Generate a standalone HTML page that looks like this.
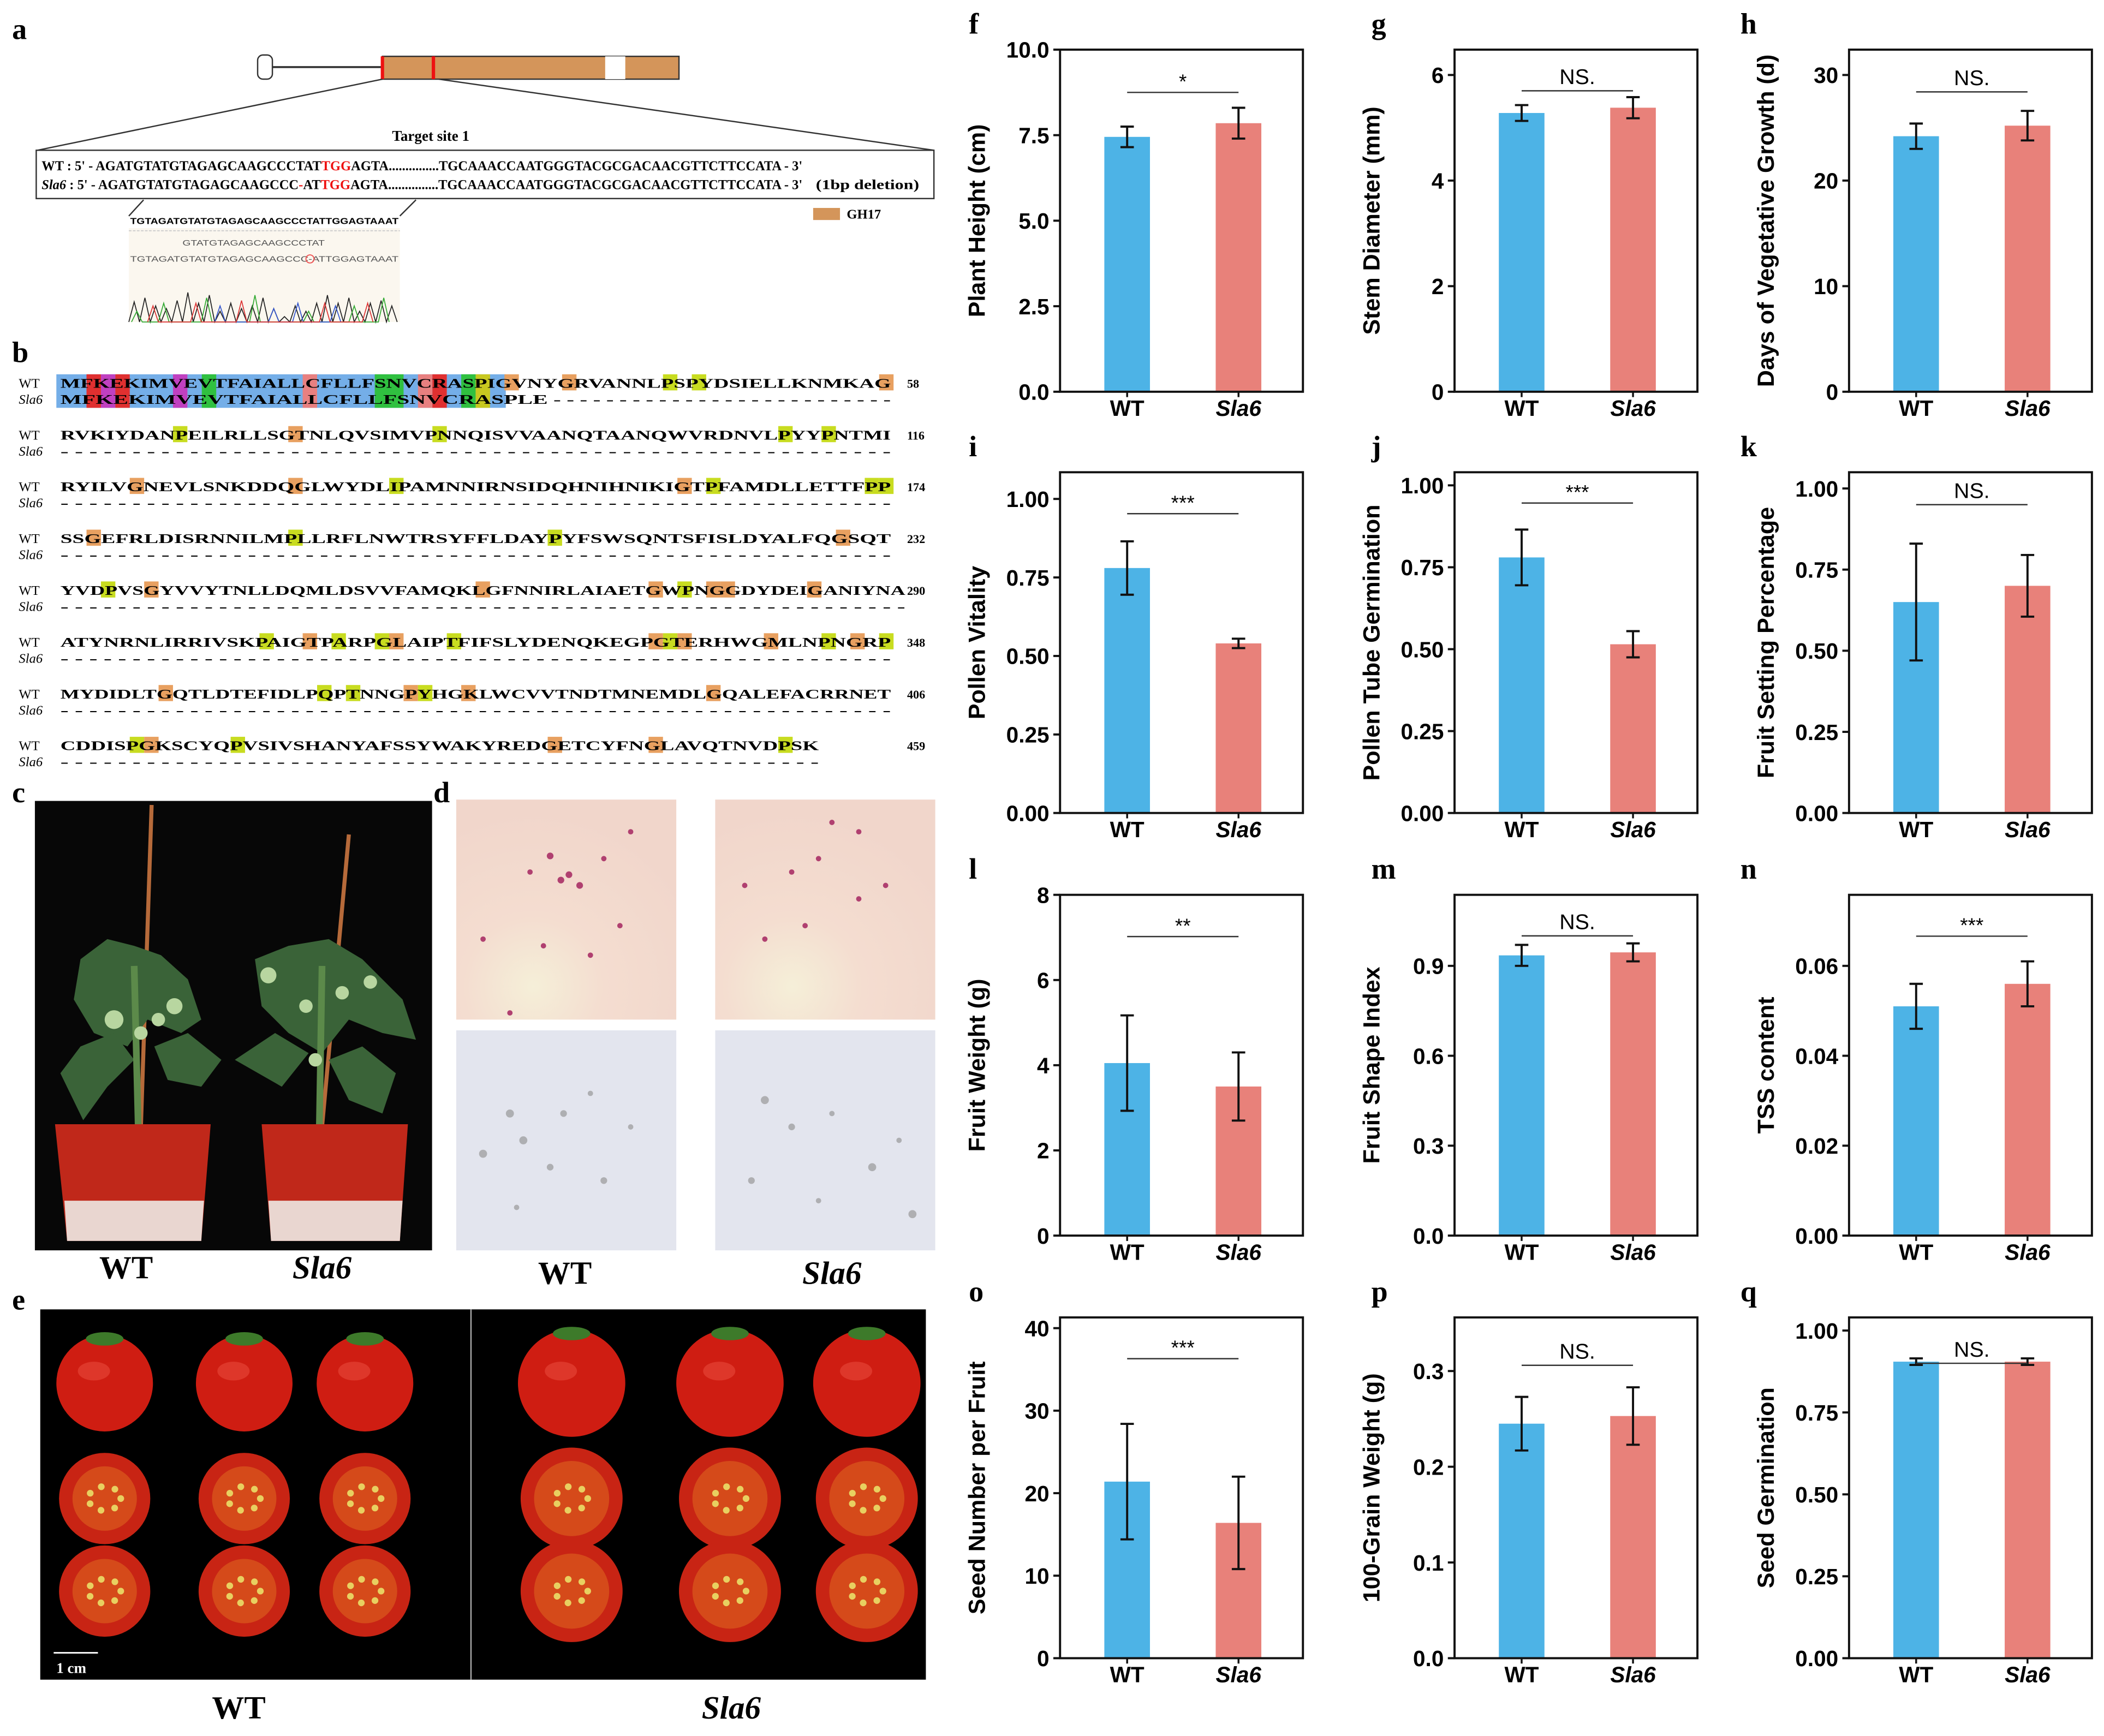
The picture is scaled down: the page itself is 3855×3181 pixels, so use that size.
<!DOCTYPE html>
<html><head><meta charset="utf-8">
<style>
html,body{margin:0;padding:0;background:#fff;}
svg{display:block;}
.ser{font-family:"Liberation Serif",serif;}
.san{font-family:"Liberation Sans",sans-serif;}
</style></head>
<body>
<svg id="fig" xmlns="http://www.w3.org/2000/svg" width="3855" height="3181" viewBox="0 0 1568 1294" preserveAspectRatio="none">
<rect x="0" y="0" width="1568" height="1294" fill="#fff"/>

<!-- Panel a -->
<g>
<text x="9" y="29" class="ser" font-size="22" font-weight="bold">a</text>
<g>
<rect x="192" y="41" width="11" height="18" rx="4" fill="#fff" stroke="#333" stroke-width="1"/>
<line x1="203" y1="50" x2="285" y2="50" stroke="#333" stroke-width="1.5"/>
<rect x="285" y="42" width="221" height="17" fill="#d4955a" stroke="#333" stroke-width="1"/>
<rect x="451" y="42" width="15" height="17" fill="#fff"/>
<line x1="285" y1="42" x2="285" y2="59" stroke="#e11" stroke-width="2.5"/>
<line x1="323" y1="42" x2="323" y2="59" stroke="#e11" stroke-width="2.5"/>
<line x1="285" y1="59" x2="28" y2="112" stroke="#333" stroke-width="1"/>
<line x1="327" y1="59" x2="696" y2="112" stroke="#333" stroke-width="1"/>
</g>
<text x="321" y="105" class="ser" font-size="11" font-weight="bold" text-anchor="middle">Target site 1</text>
<rect x="27" y="112" width="669" height="36" fill="#fff" stroke="#333" stroke-width="1"/>
<text x="31" y="127" class="ser" font-size="10.5" font-weight="bold" textLength="567" lengthAdjust="spacingAndGlyphs">WT : 5' - AGATGTATGTAGAGCAAGCCCTAT<tspan fill="#e11">TGG</tspan>AGTA...............TGCAAACCAATGGGTACGCGACAACGTTCTTCCATA - 3'</text>
<text x="31" y="141" class="ser" font-size="10.5" font-weight="bold" textLength="567" lengthAdjust="spacingAndGlyphs"><tspan font-style="italic">Sla6</tspan> : 5' - AGATGTATGTAGAGCAAGCCC<tspan fill="#e11">-</tspan>AT<tspan fill="#e11">TGG</tspan>AGTA...............TGCAAACCAATGGGTACGCGACAACGTTCTTCCATA - 3'</text>
<text x="608" y="141" class="ser" font-size="10.5" font-weight="bold" textLength="77" lengthAdjust="spacingAndGlyphs">(1bp deletion)</text>
<line x1="107" y1="149" x2="96" y2="161" stroke="#333" stroke-width="1"/>
<line x1="310" y1="149" x2="298" y2="161" stroke="#333" stroke-width="1"/>
<g>
<rect x="96" y="170" width="202" height="70" fill="#fbf7ef"/>
<text x="97" y="167" class="san" font-size="6.2" font-weight="bold" textLength="200" lengthAdjust="spacingAndGlyphs">TGTAGATGTATGTAGAGCAAGCCCTATTGGAGTAAAT</text>
<line x1="96" y1="172" x2="298" y2="172" stroke="#ccc" stroke-width="0.8" stroke-dasharray="2,1"/>
<text x="136" y="183" class="san" font-size="6" fill="#555" textLength="106" lengthAdjust="spacingAndGlyphs">GTATGTAGAGCAAGCCCTAT</text>
<text x="97" y="195" class="san" font-size="6" fill="#555" textLength="200" lengthAdjust="spacingAndGlyphs">TGTAGATGTATGTAGAGCAAGCCC-ATTGGAGTAAAT</text>
<circle cx="231" cy="193" r="3" fill="none" stroke="#e55" stroke-width="0.8"/>
<polyline fill="none" stroke="#222" stroke-width="0.7" points="96,240 100,225 104,240 108,222 112,240 116,228 120,240 124,230 128,240 132,224 136,240 140,218 144,240 148,226 152,240 156,220 160,240 164,232 168,240 172,226 176,240 180,230 184,240 188,228 192,240 196,222 200,240 204,230 208,240 212,236 216,240 220,228 224,240 228,232 232,240 236,226 240,240 244,220 248,240 252,226 256,240 260,222 264,240 268,232 272,240 276,226 280,240 284,224 288,240 292,228 296,240"/>
<polyline fill="none" stroke="#3a3" stroke-width="0.7" points="98,240 102,232 106,240 118,240 122,226 126,240 150,240 154,222 158,240 186,240 190,220 194,240 226,240 230,232 234,240 260,240 264,228 268,240 282,240 286,222 290,240"/>
<polyline fill="none" stroke="#35c" stroke-width="0.7" points="160,240 164,228 168,240 200,240 204,230 208,240 218,240 222,226 226,240 246,240 250,228 254,240"/>
<polyline fill="none" stroke="#d33" stroke-width="0.7" points="110,240 114,228 118,240 142,240 146,226 150,240 176,240 180,224 184,240 238,240 242,226 246,240 270,240 274,226 278,240"/>
</g>
<rect x="606" y="155" width="20" height="9" fill="#d4955a"/>
<text x="631" y="163" class="ser" font-size="10" font-weight="bold">GH17</text>
</g>

<!-- Panel b -->
<g id="panelB">
<text x="9" y="270" class="ser" font-size="22" font-weight="bold">b</text>
</g>

<!-- Panel c -->
<g>
<text x="9" y="598" class="ser" font-size="22" font-weight="bold">c</text>
<rect x="26" y="597" width="296" height="335" fill="#070707"/>
<line x1="113" y1="600" x2="105" y2="840" stroke="#b66a3a" stroke-width="3"/>
<line x1="260" y1="622" x2="240" y2="840" stroke="#b66a3a" stroke-width="3"/>
<g fill="#3a6338">
<polygon points="60,715 80,700 100,705 120,712 140,730 150,760 135,770 110,760 95,780 70,770 55,745"/>
<polygon points="45,800 60,780 85,770 100,790 80,810 62,835"/>
<polygon points="115,780 140,770 165,790 150,810 125,805"/>
<polygon points="190,715 215,705 245,700 270,715 300,745 310,775 285,770 260,760 240,785 215,770 195,750"/>
<polygon points="175,790 205,770 230,785 210,810"/>
<polygon points="245,790 270,780 295,800 285,830 260,820"/>
</g>
<line x1="100" y1="720" x2="103" y2="840" stroke="#5c8a4a" stroke-width="5"/>
<line x1="240" y1="720" x2="238" y2="840" stroke="#5c8a4a" stroke-width="5"/>
<g fill="#b8d6a0">
<circle cx="85" cy="760" r="7"/><circle cx="130" cy="750" r="6"/><circle cx="105" cy="770" r="5"/><circle cx="118" cy="760" r="5"/>
<circle cx="200" cy="727" r="6"/><circle cx="228" cy="750" r="5"/><circle cx="276" cy="732" r="5"/><circle cx="235" cy="790" r="5"/><circle cx="255" cy="740" r="5"/>
</g>
<polygon points="41,838 157,838 150,925 50,925" fill="#c0281a"/>
<polygon points="48,895 152,895 150,925 50,925" fill="#e9d6d0"/>
<polygon points="195,838 304,838 298,925 202,925" fill="#c0281a"/>
<polygon points="200,895 300,895 298,925 202,925" fill="#e9d6d0"/>
<text x="94" y="953" class="ser" font-size="24" font-weight="bold" text-anchor="middle">WT</text>
<text x="240" y="953" class="ser" font-size="24" font-weight="bold" font-style="italic" text-anchor="middle">Sla6</text>
</g>

<!-- Panel d -->
<g>
<defs>
<radialGradient id="pinkg" cx="0.35" cy="0.85" r="0.8"><stop offset="0" stop-color="#f5efd8"/><stop offset="0.4" stop-color="#f4ddd0"/><stop offset="1" stop-color="#f1d6cb"/></radialGradient>
</defs>
<text x="323" y="598" class="ser" font-size="22" font-weight="bold">d</text>
<rect x="340" y="596" width="164" height="164" fill="url(#pinkg)"/>
<rect x="533" y="596" width="164" height="164" fill="url(#pinkg)"/>
<rect x="340" y="768" width="164" height="164" fill="#e3e5ee"/>
<rect x="533" y="768" width="164" height="164" fill="#e3e5ee"/>
<g fill="#b04070">
<circle cx="410" cy="638" r="2.5"/><circle cx="418" cy="656" r="2.5"/><circle cx="424" cy="652" r="2.5"/><circle cx="432" cy="660" r="2.5"/><circle cx="450" cy="640" r="2"/><circle cx="470" cy="620" r="2"/><circle cx="360" cy="700" r="2"/><circle cx="405" cy="705" r="2"/><circle cx="440" cy="712" r="2"/><circle cx="395" cy="650" r="2"/><circle cx="462" cy="690" r="2"/><circle cx="380" cy="755" r="2"/>
<circle cx="620" cy="613" r="2"/><circle cx="590" cy="650" r="2"/><circle cx="610" cy="640" r="2"/><circle cx="640" cy="670" r="2"/><circle cx="570" cy="700" r="2"/><circle cx="600" cy="690" r="2"/><circle cx="660" cy="660" r="2"/><circle cx="555" cy="660" r="2"/><circle cx="640" cy="620" r="2"/>
</g>
<g fill="#999" opacity="0.7">
<circle cx="380" cy="830" r="3"/><circle cx="390" cy="850" r="3"/><circle cx="420" cy="830" r="2.5"/><circle cx="440" cy="815" r="2"/><circle cx="360" cy="860" r="3"/><circle cx="410" cy="870" r="2.5"/><circle cx="470" cy="840" r="2"/><circle cx="450" cy="880" r="2.5"/><circle cx="385" cy="900" r="2"/>
<circle cx="570" cy="820" r="3"/><circle cx="590" cy="840" r="2.5"/><circle cx="620" cy="830" r="2"/><circle cx="650" cy="870" r="3"/><circle cx="560" cy="880" r="2.5"/><circle cx="680" cy="905" r="3"/><circle cx="610" cy="895" r="2"/><circle cx="670" cy="850" r="2"/>
</g>
<text x="421" y="957" class="ser" font-size="24" font-weight="bold" text-anchor="middle">WT</text>
<text x="620" y="957" class="ser" font-size="24" font-weight="bold" font-style="italic" text-anchor="middle">Sla6</text>
</g>

<!-- Panel e -->
<g id="panelE">
<text x="9" y="976" class="ser" font-size="22" font-weight="bold">e</text>
<rect x="30" y="976" width="660" height="276" fill="#000"/>
<line x1="351" y1="976" x2="351" y2="1252" stroke="#aaa" stroke-width="1"/>
<line x1="40" y1="1232" x2="73" y2="1232" stroke="#fff" stroke-width="1.2"/>
<text x="42" y="1247" class="ser" font-size="11" font-weight="bold" fill="#fff">1 cm</text>
<text x="178" y="1281" class="ser" font-size="24" font-weight="bold" text-anchor="middle">WT</text>
<text x="545" y="1281" class="ser" font-size="24" font-weight="bold" font-style="italic" text-anchor="middle">Sla6</text>
</g>

<g id="charts"></g>
</svg>

<script>
// ===== Bar chart data (panels f–q) =====
const panelIds = ['f','g','h','i','j','k','l','m','n','o','p','q'];
const yTitles = ['Plant Height (cm)','Stem Diameter (mm)','Days of Vegetative Growth (d)','Pollen Vitality','Pollen Tube Germination','Fruit Setting Percentage','Fruit Weight (g)','Fruit Shape Index','TSS content','Seed Number per Fruit','100-Grain Weight (g)','Seed Germination'];
const categories = ['WT','Sla6'];
const yMax = [10, 6.48, 32.4, 1.085, 1.04, 1.05, 8, 1.137, 0.0758, 41.3, 0.356, 1.04];
const tickValues = [[0,2.5,5,7.5,10],[0,2,4,6],[0,10,20,30],[0,0.25,0.5,0.75,1],[0,0.25,0.5,0.75,1],[0,0.25,0.5,0.75,1],[0,2,4,6,8],[0,0.3,0.6,0.9],[0,0.02,0.04,0.06],[0,10,20,30,40],[0,0.1,0.2,0.3],[0,0.25,0.5,0.75,1]];
const tickLabels = [['0.0','2.5','5.0','7.5','10.0'],['0','2','4','6'],['0','10','20','30'],['0.00','0.25','0.50','0.75','1.00'],['0.00','0.25','0.50','0.75','1.00'],['0.00','0.25','0.50','0.75','1.00'],['0','2','4','6','8'],['0.0','0.3','0.6','0.9'],['0.00','0.02','0.04','0.06'],['0','10','20','30','40'],['0.0','0.1','0.2','0.3'],['0.00','0.25','0.50','0.75','1.00']];
const wtMeans = [7.45, 5.28, 24.2, 0.78, 0.78, 0.65, 4.05, 0.935, 0.051, 21.4, 0.245, 0.905];
const wtErrors = [0.3, 0.15, 1.2, 0.085, 0.085, 0.18, 1.12, 0.035, 0.005, 7.0, 0.028, 0.01];
const sla6Means = [7.85, 5.38, 25.2, 0.54, 0.515, 0.70, 3.5, 0.945, 0.056, 16.4, 0.253, 0.905];
const sla6Errors = [0.45, 0.2, 1.4, 0.015, 0.04, 0.095, 0.8, 0.03, 0.005, 5.6, 0.03, 0.01];
const sigLabels = ['*','NS.','NS.','***','***','NS.','**','NS.','***','***','NS.','NS.'];
const sigLevels = [8.75, 5.7, 28.4, 0.953, 0.946, 0.95, 7.02, 1.0, 0.0666, 36.3, 0.306, 0.9];

// alignment data (panel b)
const seqWT = ['MFKEKIMVEVTFAIALLCFLLFSNVCRASPIGVNYGRVANNLPSPYDSIELLKNMKAG','RVKIYDANPEILRLLSGTNLQVSIMVPNNQISVVAANQTAANQWVRDNVLPYYPNTMI','RYILVGNEVLSNKDDQGLWYDLIPAMNNIRNSIDQHNIHNIKIGTPFAMDLLETTFPP','SSGEFRLDISRNNILMPLLRFLNWTRSYFFLDAYPYFSWSQNTSFISLDYALFQGSQT','YVDPVSGYVVYTNLLDQMLDSVVFAMQKLGFNNIRLAIAETGWPNGGDYDEIGANIYNA','ATYNRNLIRRIVSKPAIGTPARPGLAIPTFIFSLYDENQKEGPGTERHWGMLNPNGRP','MYDIDLTGQTLDTEFIDLPQPTNNGPYHGKLWCVVTNDTMNEMDLGQALEFACRRNET','CDDISPGKSCYQPVSIVSHANYAFSSYWAKYREDGETCYFNGLAVQTNVDPSK'];
const seqNums = ['58','116','174','232','290','348','406','459'];
const sla6First = 'MFKEKIMVEVTFAIALLCFLLFSNVCRASPLE';

const NS = 'http://www.w3.org/2000/svg';
function mk(tag, attrs, parent){ const e=document.createElementNS(NS,tag); for(const k in attrs) e.setAttribute(k,attrs[k]); if(parent) parent.appendChild(e); return e; }

// ---- Panel b ----
(function(){
  const g = document.getElementById('panelB');
  const x0 = 43, cw = 10.74, rowY0 = 289, rowStep = 38.6;
  const special = {2:'#e03030',3:'#c040c0',4:'#e03030',8:'#c040c0',10:'#30c040',17:'#e88080',22:'#30c040',23:'#30c040',25:'#e88080',26:'#e03030',28:'#30c040',29:'#c8c820'};
  seqWT.forEach((s, r) => {
    const y = rowY0 + r*rowStep;
    const row = mk('g',{},g);
    
    
    if (r===0){
      mk('rect',{x:x0-1,y:y-10,width:31*cw+2,height:25,fill:'#74aee8'},row);
      for (const k in special){ mk('rect',{x:x0+k*cw,y:y-10,width:cw,height:25,fill:special[k]},row); }
    }
    for (let i=0;i<s.length;i++){
      if (r===0 && i<31) continue;
      if (s[i]==='G') mk('rect',{x:x0+i*cw,y:y-10,width:cw,height:12,fill:'#e8a060'},row);
      if (s[i]==='P') mk('rect',{x:x0+i*cw,y:y-10,width:cw,height:12,fill:'#c8dc20'},row);
    }
    const t = mk('text',{x:x0+2,y:y,'font-size':10,'font-weight':'bold','class':'ser',textLength:(s.length*cw-4).toFixed(1),lengthAdjust:'spacingAndGlyphs'},row);
    t.textContent = s;
    const l1 = mk('text',{x:14,y:y,'font-size':10,'class':'ser'},row); l1.textContent='WT';
    const l2 = mk('text',{x:14,y:y+12,'font-size':10,'font-style':'italic','class':'ser'},row); l2.textContent='Sla6';
    const n = mk('text',{x:676,y:y,'font-size':9,'font-weight':'bold','class':'ser'},row); n.textContent=seqNums[r];
    let s2;
    if (r===0){ s2 = sla6First + ' ' + '- '.repeat(26).trim(); }
    else { s2 = '- '.repeat(s.length).trim(); }
    const t2 = mk('text',{x:x0+2,y:y+12,'font-size':10,'font-weight':'bold','class':'ser',textLength:(s.length*cw-4).toFixed(1),lengthAdjust:'spacingAndGlyphs'},row);
    t2.textContent = s2;
  });
})();

// ---- Panel e tomatoes ----
(function(){
  const g = document.getElementById('panelE');
  const xs = [78,182,272,426,544,646];
  xs.forEach((cx,i)=>{
    const r = i<3?36:40;
    const w = mk('circle',{cx:cx,cy:1031,r:r,fill:'#cf1d12'},g);
    
    
    mk('ellipse',{cx:cx-8,cy:1022,rx:12,ry:7,fill:'#e84a3a',opacity:0.6},g);
    mk('ellipse',{cx:cx,cy:994+(i<3?4:0),rx:14,ry:5,fill:'#3d7a2a'},g);
    [1117,1186].forEach(cy=>{
      const h = mk('circle',{cx:cx,cy:cy,r:r-2,fill:'#c82414'},g);
      
      
      mk('circle',{cx:cx,cy:cy,r:r-12,fill:'#d8541c',opacity:0.8},g);
      for (let k=0;k<7;k++){ mk('circle',{cx:cx+Math.cos(k*0.9)*12,cy:cy+Math.sin(k*0.9)*9,r:2.5,fill:'#e8d060'},g); }
    });
  });
})();

// ---- Bar charts ----
(function(){
  const root = document.getElementById('charts');
  const colLeft = [790,1084,1378];
  const rowTop = [37,352,667,982];
  const rowBot = [292,606,921,1236];
  const W = 181;
  const letterX = [722,1022,1297];
  panelIds.forEach((id, p) => {
    const c = p%3, r = Math.floor(p/3);
    const L = colLeft[c], T = rowTop[r], B = rowBot[r];
    const yS = v => B - v/yMax[p]*(B-T);
    const xC = k => L + (k===0?50:133);
    const g = mk('g',{},root);
    
    
    const lt = mk('text',{x:letterX[c],y:T-12,'font-size':22,'font-weight':'bold','class':'ser'},g);
    
    
    lt.textContent = id;
    const means=[wtMeans[p],sla6Means[p]], errs=[wtErrors[p],sla6Errors[p]], cols=['#4db3e6','#e8817a'];
    for (let k=0;k<2;k++){
      const b = mk('rect',{x:xC(k)-17,y:yS(means[k]),width:34,height:B-yS(means[k]),fill:cols[k]},g);
      
      
      const eg = mk('g',{stroke:'#111','stroke-width':1.6,fill:'none'},g);
      
      
      const y1=yS(means[k]+errs[k]), y2=yS(means[k]-errs[k]);
      mk('line',{x1:xC(k),y1:y1,x2:xC(k),y2:y2},eg);
      mk('line',{x1:xC(k)-5,y1:y1,x2:xC(k)+5,y2:y1},eg);
      mk('line',{x1:xC(k)-5,y1:y2,x2:xC(k)+5,y2:y2},eg);
      const cl = mk('text',{x:xC(k),y:B+18,'font-size':16.5,'font-weight':'bold','text-anchor':'middle','class':'san','font-style':k?'italic':'normal'},g);
      
      
      cl.textContent = categories[k];
    }
    const fr = mk('rect',{x:L,y:T,width:W,height:B-T,fill:'none',stroke:'#111','stroke-width':1.6},g);
    
    
    tickValues[p].forEach((v,i)=>{
      mk('line',{x1:L-5,y1:yS(v),x2:L,y2:yS(v),stroke:'#111','stroke-width':1.6},g);
      const tl = mk('text',{x:L-8,y:yS(v)+6,'font-size':16.5,'font-weight':'bold','text-anchor':'end','class':'san'},g);
      
      
      tl.textContent = tickLabels[p][i];
    });
    [0,1].forEach(k=>mk('line',{x1:xC(k),y1:B,x2:xC(k),y2:B+4,stroke:'#111','stroke-width':1.4},g));
    const tx = L-56, ty=(T+B)/2;
    const at = mk('text',{x:tx,y:ty,'font-size':17.5,'font-weight':'bold','text-anchor':'middle','class':'san',transform:'rotate(-90 '+tx+' '+ty+')'},g);
    
    
    at.textContent = yTitles[p];
    const sy = yS(sigLevels[p]);
    const sl = mk('line',{x1:xC(0),y1:sy,x2:xC(1),y2:sy,stroke:'#333','stroke-width':1},g);
    
    
    const isNS = sigLabels[p]==='NS.';
    const st = mk('text',{x:(xC(0)+xC(1))/2,y:isNS?sy-5:sy-3,'font-size':isNS?16:15,'text-anchor':'middle','class':'san'},g);
    
    
    st.textContent = sigLabels[p];
  });
})();
</script>
</body></html>
